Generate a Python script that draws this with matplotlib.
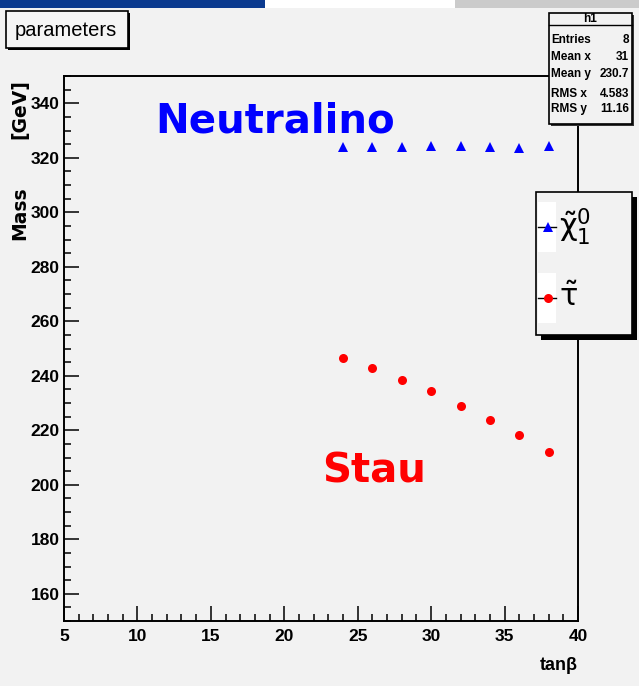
import numpy as np
import matplotlib
matplotlib.use('Agg')
import matplotlib.pyplot as plt
from matplotlib.patches import Rectangle
from matplotlib.ticker import MultipleLocator

matplotlib.rcParams['font.family'] = ['Liberation Sans', 'DejaVu Sans']
matplotlib.rcParams['mathtext.fontset'] = 'dejavusans'

# data
tanb = [24, 26, 28, 30, 32, 34, 36, 38]
m_chi = [323.8, 323.8, 323.8, 324.2, 324.2, 323.8, 323.6, 324.3]
m_stau = [246.4, 242.9, 238.6, 234.4, 229.0, 223.8, 218.4, 212.0]

x_ticks = [5, 10, 15, 20, 25, 30, 35, 40]
y_ticks = [160, 180, 200, 220, 240, 260, 280, 300, 320, 340]

stat_names = ['Entries', 'Mean x', 'Mean y', 'RMS x', 'RMS y']
stat_values = ['8', '31', '230.7', '4.583', '11.16']

bg = '#f2f2f2'
W, H = 639, 686
fig = plt.figure(figsize=(W / 100, H / 100), dpi=100, facecolor=bg)

# main frame (pixel box 64..578 x, 76..621 y)
ax = fig.add_axes([64 / W, 1 - 621 / H, (578 - 64) / W, (621 - 76) / H], zorder=1)
ax.set_facecolor(bg)

ax.plot(tanb, m_chi, linestyle='none', marker='^', color='#0000ff', markersize=6.5, markeredgewidth=0)
ax.plot(tanb, m_stau, linestyle='none', marker='o', color='#ff0000', markersize=6.5, markeredgewidth=0)

ax.set_xlim(5, 40)
ax.set_ylim(150, 350)
ax.set_xticks(x_ticks)
ax.set_yticks(y_ticks)
ax.xaxis.set_minor_locator(MultipleLocator(1))
ax.yaxis.set_minor_locator(MultipleLocator(5))
ax.tick_params(which='both', direction='in', top=False, right=False, width=1.1, color='black')
ax.tick_params(which='major', length=11, labelsize=12.5)
ax.tick_params(axis='x', which='major', pad=6)
ax.tick_params(axis='y', which='major', pad=3)
ax.tick_params(which='minor', length=5.3)
for lab in ax.get_xticklabels() + ax.get_yticklabels():
    lab.set_fontweight('bold')
for sp in ax.spines.values():
    sp.set_linewidth(1.4)

ax.text(11.2, 329.1, 'Neutralino', color='#0000ff', fontsize=29, fontweight='bold',
        family='DejaVu Sans', ha='left', va='baseline')
ax.text(22.6, 200.7, 'Stau', color='#ff0000', fontsize=29, fontweight='bold',
        family='DejaVu Sans', ha='left', va='baseline')

# overlay in pixel coordinates for the ROOT boxes
ov = fig.add_axes([0, 0, 1, 1], zorder=2)
ov.set_xlim(0, W)
ov.set_ylim(H, 0)
ov.axis('off')
ov.patch.set_alpha(0)

# top bars
ov.add_patch(Rectangle((0, 0), W, 8, facecolor='white', edgecolor='none'))
ov.add_patch(Rectangle((0, 0), 265, 7.5, facecolor='#0b3a8f', edgecolor='none'))
ov.add_patch(Rectangle((455, 0), W - 455, 7.5, facecolor='#cbcbcb', edgecolor='none'))

# title box
ov.add_patch(Rectangle((8, 13), 122, 37, facecolor='black', edgecolor='none'))
ov.add_patch(Rectangle((6, 11), 122, 37, facecolor='#f5f5f5', edgecolor='black', linewidth=1.2))
ov.text(66, 30, 'parameters', fontsize=14.5, ha='center', va='center')

# stats box
ov.add_patch(Rectangle((551, 15), 83, 111, facecolor='#333333', edgecolor='none'))
ov.add_patch(Rectangle((549, 13), 83, 111, facecolor=bg, edgecolor='black', linewidth=1.2))
ov.plot([549, 632], [25, 25], color='black', linewidth=1.0)
ov.text(590.5, 19.5, 'h1', fontsize=8.5, fontweight='bold', ha='center', va='center')
stat_y = [40, 57, 74, 94, 109]
for name, val, yy in zip(stat_names, stat_values, stat_y):
    ov.text(551, yy, name, fontsize=8.5, fontweight='bold', ha='left', va='center')
    ov.text(629, yy, val, fontsize=8.5, fontweight='bold', ha='right', va='center')

# legend box
ov.add_patch(Rectangle((541, 197), 96, 143, facecolor='black', edgecolor='none'))
ov.add_patch(Rectangle((536, 192), 96, 143, facecolor=bg, edgecolor='black', linewidth=1.2))
leg_y = [227, 298]
leg_marker = ['^', 'o']
leg_color = ['#0000ff', '#ff0000']
leg_label = [r'$\tilde{\mathrm{\chi}}_1^0$', r'$\tilde{\mathrm{\tau}}$']
for yy, mk, c, lab in zip(leg_y, leg_marker, leg_color, leg_label):
    ov.add_patch(Rectangle((538, yy - 25), 18, 50, facecolor='white', edgecolor='none'))
    ov.plot([538, 556], [yy, yy], color='black', linewidth=1.0)
    ov.plot([548], [yy], marker=mk, color=c, markersize=6.5, markeredgewidth=0)
    ov.text(559, yy, lab, fontsize=22, ha='left', va='center', color='black')

# axis titles
ov.text(20, 213, 'Mass', fontsize=13.5, fontweight='bold', family='DejaVu Sans',
        rotation=90, ha='center', va='center')
ov.text(20, 109, '[GeV]', fontsize=13.5, fontweight='bold', family='DejaVu Sans',
        rotation=90, ha='center', va='center')
ov.text(578, 665, 'tanβ', fontsize=13, fontweight='bold', ha='right', va='center')

fig.savefig('out.png', dpi=100, facecolor=bg)
